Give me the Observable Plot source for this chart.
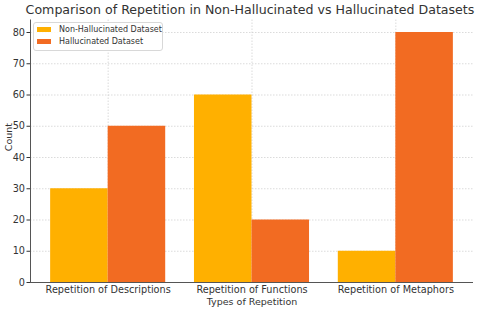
<!DOCTYPE html>
<html><head><meta charset="utf-8">
<script src="https://cdn.jsdelivr.net/npm/d3@7"></script>
<script src="https://cdn.jsdelivr.net/npm/@observablehq/plot@0.6"></script>
<style>
body{margin:0;background:#fff;font-family:"DejaVu Sans",sans-serif;}
#wrap{position:relative;width:480px;height:310px;}
#title{position:absolute;left:0;width:500px;top:2px;text-align:center;font-size:12.6px;color:#333;white-space:nowrap;}
#legend{position:absolute;left:33px;top:22px;width:128px;height:27px;border:1px solid #d8d8d8;border-radius:3px;background:rgba(255,255,255,0.85);font-size:8px;color:#333;}
.row{position:absolute;left:3px;display:flex;align-items:center;}
.sw{width:14px;height:5px;margin-right:8px;}
</style></head>
<body><div id="wrap"><div id="title"></div><div id="chart"></div><div id="legend"></div></div>
<script>
const categories = ["Repetition of Descriptions", "Repetition of Functions", "Repetition of Metaphors"];
const nonHallucinated = [30, 60, 10];
const hallucinated = [50, 20, 80];
const seriesNames = ["Non-Hallucinated Dataset", "Hallucinated Dataset"];
const colors = ["#FFB000", "#F26B22"];
const yTicks = [0, 10, 20, 30, 40, 50, 60, 70, 80];

const title = "Comparison of Repetition in Non-Hallucinated vs Hallucinated Datasets";
const barW = 0.4;
const rows = [];
categories.forEach((c, i) => {
  rows.push({i, series: seriesNames[0], value: nonHallucinated[i], x1: i - barW, x2: i});
  rows.push({i, series: seriesNames[1], value: hallucinated[i], x1: i, x2: i + barW});
});
const xmin = -0.54, xmax = 2.54;
const chart = Plot.plot({
  width: 480, height: 310,
  marginLeft: 30, marginRight: 7, marginTop: 19.5, marginBottom: 28,
  style: {fontFamily: "DejaVu Sans, sans-serif", fontSize: "9.5px", color: "#333", background: "#fff"},
  x: {domain: [xmin, xmax], label: null, axis: null},
  y: {domain: [0, 84], label: null, axis: null},
  color: {domain: seriesNames, range: colors},
  marks: [
    Plot.gridX([0, 1, 2], {stroke: "#ccc", strokeOpacity: 1, strokeDasharray: "1.5,1.5", strokeWidth: 0.7}),
    Plot.gridY(yTicks.slice(1), {stroke: "#ccc", strokeOpacity: 1, strokeDasharray: "1.5,1.5", strokeWidth: 0.7}),
    Plot.rectY(rows, {x1: "x1", x2: "x2", y1: 0, y2: "value", fill: "series"}),
    Plot.ruleY([0], {stroke: "#555", strokeWidth: 1}),
    Plot.ruleX([xmin], {stroke: "#555", strokeWidth: 1}),
    Plot.axisX({ticks: [0, 1, 2], tickFormat: d => categories[d], tickSize: 0, tickPadding: 4, label: null, fontSize: "9.7px"}),
    Plot.axisY({ticks: yTicks, tickSize: 3.5, tickPadding: 2, label: null, fontSize: "9.7px"}),
    Plot.text(["Types of Repetition"], {frameAnchor: "bottom", dy: 22, fontSize: 9.5, fill: "#333"}),
    Plot.text(["Count"], {frameAnchor: "left", dx: -22, rotate: -90, fontSize: 9.5, fill: "#333"})
  ]
});
document.getElementById("chart").appendChild(chart);
document.getElementById("title").textContent = title;
const lg = document.getElementById("legend");
seriesNames.forEach((s, k) => {
  const r = document.createElement("div");
  r.className = "row"; r.style.top = (2 + k * 12) + "px";
  r.innerHTML = `<div class="sw" style="background:${colors[k]}"></div><span>${s}</span>`;
  lg.appendChild(r);
});
</script></body></html>
